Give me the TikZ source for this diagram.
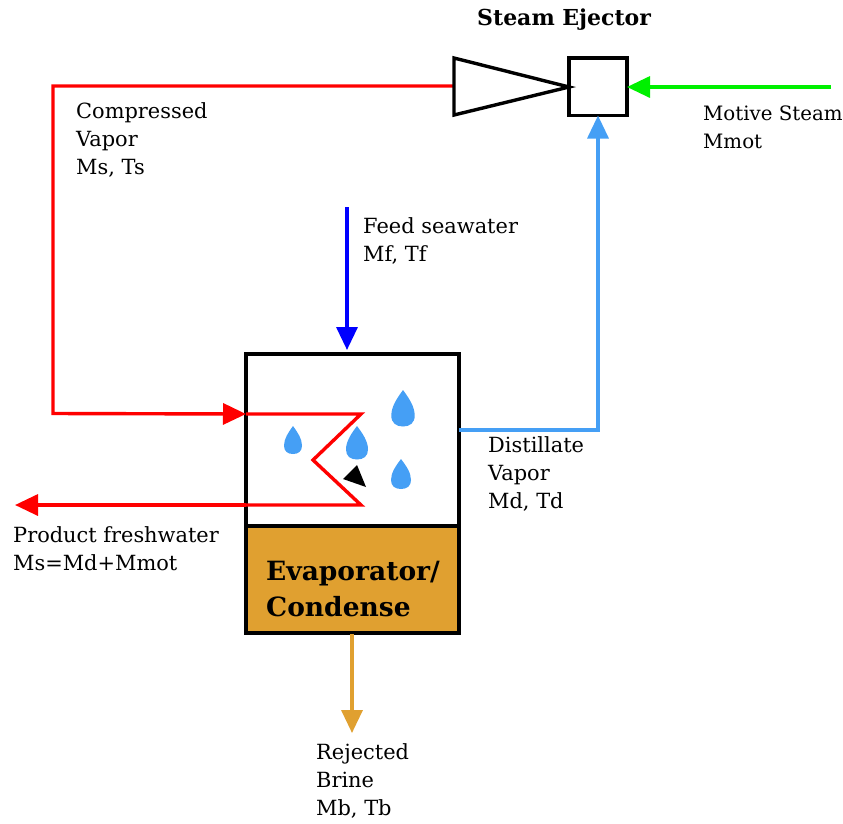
\documentclass[tikz,border=0pt]{standalone}
\usepackage{fontspec}
\setmainfont{DejaVu Serif}
\usetikzlibrary{arrows.meta}
\definecolor{dropblue}{HTML}{459FF5}
\definecolor{brine}{HTML}{E0A030}
\definecolor{steamgreen}{HTML}{00F000}
\tikzset{
  vessel/.style={draw=black,line width=3.4pt,inner sep=0pt,outer sep=0pt,minimum width=#1},
  pipe/.style={line width=3.4pt,line join=miter},
  flowtip/.style={-{Triangle[length=23pt,width=21pt]}},
  lbl/.style={anchor=north west,align=left,inner sep=0pt,font=\fontsize{20.9}{28}\selectfont},
  boldlbl/.style={anchor=north west,align=left,inner sep=0pt,font=\fontsize{26.5}{36}\selectfont\bfseries},
  droplet/.style={fill=dropblue,draw=none},
}
\newcommand{\waterdrop}[4]{% cx, top y, bottom y, half width
  \fill[droplet] (#1,#2)
    .. controls (#1+0.5*#4,#2+0.22*#3-0.22*#2) and (#1+#4,#2+0.45*#3-0.45*#2) .. (#1+#4,#2+0.7*#3-0.7*#2)
    .. controls (#1+#4,#2+0.9*#3-0.9*#2) and (#1+0.6*#4,#3) .. (#1,#3)
    .. controls (#1-0.6*#4,#3) and (#1-#4,#2+0.9*#3-0.9*#2) .. (#1-#4,#2+0.7*#3-0.7*#2)
    .. controls (#1-#4,#2+0.45*#3-0.45*#2) and (#1-0.5*#4,#2+0.22*#3-0.22*#2) .. (#1,#2) -- cycle;}
\begin{document}
\begin{tikzpicture}[x=1pt,y=-1pt]
\useasboundingbox (0,0) rectangle (843,823);
\clip (0,0) rectangle (843,823);
% evaporator
\fill[brine] (246,526) rectangle (459,633);
\node[vessel=213pt,minimum height=172pt,anchor=north west] (evap) at (246,354) {};
\node[vessel=213pt,minimum height=107pt,anchor=north west] (cond) at (246,526) {};
% ejector
\node[vessel=58pt,minimum height=57.5pt,anchor=north west] (mixer) at (569,58) {};
\coordinate (ejin) at (454,86);
\coordinate (coilin) at (246,414);
\coordinate (coilout) at (246,505);
\coordinate (prodend) at (15,505);
\coordinate (feedstart) at (347,207);
\coordinate (feedend) at (347,350);
\coordinate (distout) at (459,430);
\coordinate (motstart) at (831,87);
\coordinate (brinestart) at (352,634);
\coordinate (brineend) at (352,733);
% red lines
\draw[pipe,red,flowtip] (ejin) -- (53,86) -- (53,413.5) -- (coilin);
\draw[pipe,red] (coilin) -- (361,414) -- (313,460) -- (361,505) -- (coilout);
\draw[pipe,red,flowtip] (coilout) -- (prodend);
% other lines
\draw[pipe,blue,flowtip] (feedstart) -- (feedend);
\draw[pipe,dropblue,flowtip] (distout) -- (598,430) -- (mixer.south -| 598,0);
\draw[pipe,steamgreen,flowtip] (motstart) -- (mixer.east |- motstart);
\draw[pipe,brine,flowtip] (brinestart) -- (brineend);
% nozzle
\draw[line width=3.4pt,line join=miter,fill=white] (454,58) -- (569,87) -- (454,115) -- cycle;
% droplets
\waterdrop{293}{426}{454}{9}
\waterdrop{357}{426}{459.5}{11}
\waterdrop{403}{390}{426.5}{11.7}
\waterdrop{401}{459}{489}{10}
\fill[black] (357,465) -- (366,487) -- (343,479) -- cycle;
% text
\node[boldlbl] (t0) at (266,561) {Evaporator/\\Condense};
\node[boldlbl,font=\fontsize{22}{28}\selectfont\bfseries] (t1) at (477,9) {Steam Ejector};
\node[lbl] (t2) at (76,102) {Compressed\\Vapor\\Ms, Ts};
\node[lbl] (t3) at (363,217) {Feed seawater\\Mf, Tf};
\node[lbl,font=\fontsize{19.8}{28}\selectfont] (t4) at (703,106) {Motive Steam\\Mmot};
\node[lbl] (t5) at (488,436) {Distillate\\Vapor\\Md, Td};
\node[lbl] (t6) at (13,526) {Product freshwater\\Ms=Md+Mmot};
\node[lbl] (t7) at (316,743) {Rejected\\Brine\\Mb, Tb};
\end{tikzpicture}
\end{document}
